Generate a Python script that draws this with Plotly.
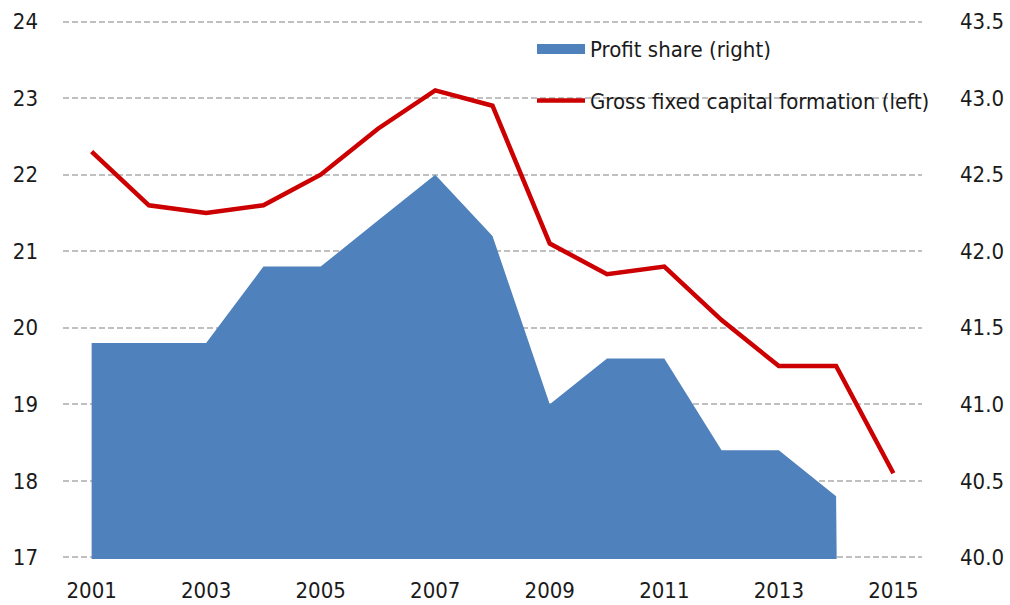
import plotly.graph_objects as go

years = list(range(2001, 2016))
profit_share = [41.4, 41.4, 41.4, 41.9, 41.9, 42.2, 42.5, 42.1, 41.0, 41.3, 41.3, 40.7, 40.7, 40.4, 0]
gfcf = [22.3, 21.6, 21.5, 21.6, 22.0, 22.6, 23.1, 22.9, 21.1, 20.7, 20.8, 20.1, 19.5, 19.5, 18.1]
x_ticks = [2001, 2003, 2005, 2007, 2009, 2011, 2013, 2015]
left_ticks = [17, 18, 19, 20, 21, 22, 23, 24]
right_ticks = [40.0, 40.5, 41.0, 41.5, 42.0, 42.5, 43.0, 43.5]

FONT = "DejaVu Sans Condensed, Liberation Sans Narrow, Arial Narrow, sans-serif"
TXT = "#1a1a1a"
BLUE = "#4f81bd"
RED = "#cc0000"

# small padding so the edge gridlines (24 / 43.5 and 17 / 40.0) are drawn
pad_l = 0.02
pad_r = pad_l / 2

fig = go.Figure()
fig.add_trace(go.Scatter(
    x=years, y=profit_share, name="Profit share (right)",
    mode="none", fill="tozeroy", fillcolor=BLUE,
    yaxis="y", showlegend=False, hoverinfo="skip",
))
# legend entry for the area (wide rectangle swatch)
fig.add_trace(go.Scatter(
    x=[None], y=[None], name="Profit share (right)",
    mode="lines", line=dict(color=BLUE, width=13),
    yaxis="y", legendgroup="a",
))
fig.add_trace(go.Scatter(
    x=years, y=gfcf, name="Gross fixed capital formation (left)",
    mode="lines", line=dict(color=RED, width=4.5),
    yaxis="y2", legendgroup="b",
))

fig.update_layout(
    width=1010, height=605,
    margin=dict(l=63, r=88, t=20, b=46),
    paper_bgcolor="white", plot_bgcolor="white",
    font=dict(family=FONT, size=22, color=TXT),
    showlegend=True,
    legend=dict(
        x=0.546, y=0.985, xanchor="left", yanchor="top",
        bgcolor="rgba(0,0,0,0)", traceorder="grouped", tracegroupgap=20,
        font=dict(family=FONT, size=22, color=TXT), itemwidth=48,
    ),
    xaxis=dict(
        range=[2000.5, 2015.5], tickvals=x_ticks, ticktext=[str(v) for v in x_ticks],
        showgrid=False, zeroline=False, showline=False, ticks="",
        ticklabelstandoff=16, automargin=False,
    ),
    yaxis=dict(
        side="right", range=[40 - pad_r, 43.5 + pad_r], tickvals=right_ticks,
        ticktext=[f"{v:.1f}" for v in right_ticks],
        showgrid=True, gridcolor="#c0c0c0", gridwidth=1.5, griddash="6px,3px",
        zeroline=False, showline=False, ticks="", ticklabelstandoff=37,
        automargin=False,
    ),
    yaxis2=dict(
        side="left", overlaying="y", range=[17 - pad_l, 24 + pad_l], tickvals=left_ticks,
        ticktext=[str(v) for v in left_ticks],
        showgrid=False, zeroline=False, showline=False, ticks="",
        ticklabelstandoff=24, automargin=False,
    ),
)

fig.write_html(
    "out.html",
    config={"displayModeBar": False},
    post_script="document.body.style.margin='0';document.body.style.padding='0';",
)
